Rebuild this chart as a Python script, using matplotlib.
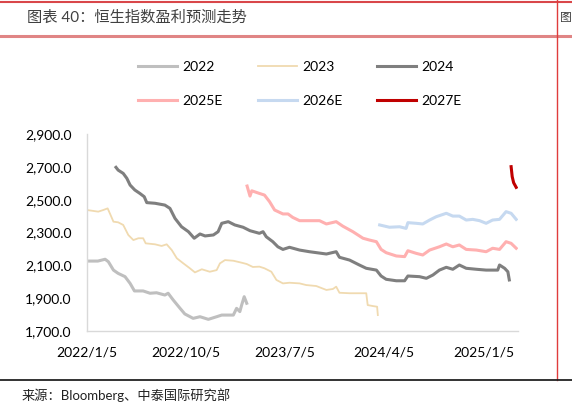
import matplotlib
matplotlib.use("Agg")
import matplotlib.pyplot as plt
from matplotlib.lines import Line2D
from matplotlib.ticker import FuncFormatter
import pandas as pd

plt.rcParams['font.family'] = ['Lato', 'Noto Sans CJK SC', 'DejaVu Sans']

# EPS forecast series (date, value)
d2022 = ['2022-01-05', '2022-02-04', '2022-02-24', '2022-03-05', '2022-03-19', '2022-04-01',
         '2022-04-20', '2022-05-04', '2022-05-16', '2022-06-09', '2022-06-28', '2022-07-16',
         '2022-08-08', '2022-08-17', '2022-08-31', '2022-09-19', '2022-10-02', '2022-10-25',
         '2022-11-13', '2022-12-06', '2022-12-29', '2023-01-12', '2023-02-13', '2023-02-22',
         '2023-03-03', '2023-03-08', '2023-03-15', '2023-03-22']
v2022 = [2126, 2126, 2137, 2122, 2071, 2051, 2031, 1990, 1944, 1944, 1930, 1933, 1919, 1930,
         1889, 1838, 1804, 1777, 1787, 1771, 1787, 1797, 1797, 1838, 1818, 1858, 1909, 1869]

d2023 = ['2022-01-05', '2022-02-05', '2022-02-19', '2022-03-03', '2022-03-09', '2022-03-19',
         '2022-04-01', '2022-04-15', '2022-04-29', '2022-05-13', '2022-05-27', '2022-06-09',
         '2022-06-16', '2022-07-12', '2022-07-30', '2022-08-13', '2022-08-27', '2022-09-10',
         '2022-09-28', '2022-10-16', '2022-10-30', '2022-11-18', '2022-12-10', '2022-12-29',
         '2023-01-07', '2023-01-21', '2023-02-13', '2023-03-08', '2023-03-22', '2023-04-08',
         '2023-04-26', '2023-05-10', '2023-05-29', '2023-06-12', '2023-06-30', '2023-07-18',
         '2023-08-15', '2023-09-02', '2023-09-30', '2023-10-28', '2023-11-15', '2023-11-24',
         '2023-12-03', '2023-12-31', '2024-01-27', '2024-02-15', '2024-02-19', '2024-03-04',
         '2024-03-16', '2024-03-18']
v2023 = [2437, 2427, 2437, 2447, 2417, 2366, 2362, 2346, 2285, 2254, 2265, 2265, 2234, 2228,
         2218, 2228, 2193, 2143, 2112, 2082, 2057, 2076, 2061, 2071, 2112, 2132, 2128, 2116,
         2108, 2090, 2092, 2082, 2061, 2011, 1990, 1994, 1990, 1980, 1974, 1950, 1956, 1970,
         1933, 1930, 1930, 1930, 1858, 1852, 1848, 1797]

d2024 = ['2022-03-26', '2022-04-01', '2022-04-15', '2022-04-25', '2022-05-04', '2022-05-17',
         '2022-05-31', '2022-06-12', '2022-06-19', '2022-07-12', '2022-08-08', '2022-08-22',
         '2022-09-05', '2022-09-23', '2022-10-12', '2022-10-28', '2022-11-13', '2022-11-27',
         '2022-12-20', '2023-01-02', '2023-01-12', '2023-01-30', '2023-02-17', '2023-03-12',
         '2023-03-31', '2023-04-26', '2023-05-06', '2023-05-15', '2023-06-02', '2023-06-16',
         '2023-06-30', '2023-07-18', '2023-08-15', '2023-09-11', '2023-10-28', '2023-11-24',
         '2023-12-03', '2023-12-31', '2024-01-27', '2024-02-15', '2024-03-14', '2024-03-27',
         '2024-04-10', '2024-05-08', '2024-05-31', '2024-06-09', '2024-07-11', '2024-07-30',
         '2024-08-17', '2024-09-04', '2024-09-23', '2024-10-11', '2024-10-29', '2024-11-17',
         '2024-12-15', '2025-01-11', '2025-02-12', '2025-02-17', '2025-03-03', '2025-03-12',
         '2025-03-16']
v2024 = [2697, 2680, 2660, 2630, 2589, 2559, 2538, 2518, 2482, 2478, 2467, 2447, 2386, 2335,
         2305, 2265, 2291, 2279, 2285, 2305, 2356, 2366, 2346, 2332, 2311, 2295, 2305, 2274,
         2244, 2213, 2197, 2210, 2193, 2183, 2169, 2183, 2149, 2132, 2102, 2082, 2071, 2035,
         2015, 2006, 2006, 2035, 2031, 2021, 2041, 2071, 2088, 2076, 2102, 2082, 2076, 2071,
         2071, 2102, 2082, 2061, 2011]

d2025 = ['2023-03-23', '2023-03-31', '2023-04-05', '2023-04-26', '2023-05-10', '2023-05-24',
         '2023-06-07', '2023-06-30', '2023-07-14', '2023-07-27', '2023-08-15', '2023-09-11',
         '2023-10-09', '2023-10-28', '2023-11-24', '2023-12-12', '2024-01-09', '2024-02-06',
         '2024-02-24', '2024-03-14', '2024-03-27', '2024-04-10', '2024-05-08', '2024-05-31',
         '2024-06-09', '2024-07-02', '2024-07-20', '2024-08-08', '2024-09-04', '2024-09-23',
         '2024-10-11', '2024-10-29', '2024-11-17', '2024-12-15', '2025-01-11', '2025-01-29',
         '2025-02-17', '2025-03-07', '2025-03-21', '2025-04-04']
v2025 = [2583, 2522, 2554, 2538, 2528, 2488, 2437, 2413, 2413, 2392, 2372, 2372, 2372, 2352,
         2366, 2339, 2305, 2265, 2254, 2244, 2197, 2177, 2157, 2153, 2189, 2173, 2163, 2193,
         2213, 2230, 2213, 2224, 2197, 2193, 2183, 2204, 2197, 2244, 2234, 2204]

d2026 = ['2024-03-23', '2024-04-19', '2024-05-17', '2024-06-04', '2024-06-09', '2024-07-02',
         '2024-07-20', '2024-08-08', '2024-08-26', '2024-09-23', '2024-10-11', '2024-10-29',
         '2024-11-17', '2024-12-05', '2024-12-24', '2025-01-11', '2025-01-29', '2025-02-17',
         '2025-03-07', '2025-03-21', '2025-04-04']
v2026 = [2346, 2332, 2335, 2325, 2360, 2356, 2352, 2376, 2396, 2417, 2400, 2400, 2376, 2380,
         2372, 2356, 2376, 2380, 2427, 2417, 2380]

d2027 = ['2025-03-21', '2025-03-24', '2025-03-28', '2025-04-04']
v2027 = [2701, 2640, 2603, 2575]

series = [
    ('2022', d2022, v2022, '#BFBFBF', 2.2),
    ('2023', d2023, v2023, '#F0DAB0', 1.3),
    ('2024', d2024, v2024, '#7F7F7F', 2.2),
    ('2025E', d2025, v2025, '#FFB0B0', 2.2),
    ('2026E', d2026, v2026, '#C6D9F0', 2.2),
    ('2027E', d2027, v2027, '#C00000', 2.2),
]

tick_dates = ['2022-01-05', '2022-10-05', '2023-07-05', '2024-04-05', '2025-01-05']
tick_labels = ['2022/1/5', '2022/10/5', '2023/7/5', '2024/4/5', '2025/1/5']

fig = plt.figure(figsize=(5.72, 4.13), dpi=100)
W, H = 572, 413

ax = fig.add_axes([87 / W, 1 - 331 / H, (518 - 87) / W, (331 - 134) / H])
lines = []
for name, d, v, c, lw in series:
    ln, = ax.plot(pd.to_datetime(d), v, color=c, lw=lw, label=name, solid_joinstyle='round')
    lines.append(ln)

ax.set_ylim(1700, 2900)
ax.set_yticks(range(1700, 2901, 200))
ax.yaxis.set_major_formatter(FuncFormatter(lambda x, p: '{:,.1f}'.format(x)))
ax.set_xlim(pd.Timestamp('2022-01-05'), pd.Timestamp('2025-04-09'))
ax.set_xticks(pd.to_datetime(tick_dates))
ax.set_xticklabels(tick_labels)
ax.tick_params(axis='both', length=0, labelsize=10, colors='#000000')
ax.tick_params(axis='y', pad=11)
ax.tick_params(axis='x', pad=11)
for s in ['top', 'right']:
    ax.spines[s].set_visible(False)
for s in ['left', 'bottom']:
    ax.spines[s].set_color('#D9D9D9')
    ax.spines[s].set_linewidth(1.0)

# legend filled column by column, so reorder to get rows 2022/2023/2024 and 2025E/2026E/2027E
order = [0, 3, 1, 4, 2, 5]
fig.legend([lines[i] for i in order], [lines[i].get_label() for i in order],
           loc='center', bbox_to_anchor=(300 / W, 1 - 84 / H), ncol=3, frameon=False,
           fontsize=10, handlelength=2.8, handletextpad=0.4, columnspacing=2.5,
           labelspacing=1.6)

# page decorations: title bar, frame lines and source note
fig.add_artist(Line2D([0, 1], [1 - 1.5 / H, 1 - 1.5 / H], color='#D9474A', lw=1.5))
fig.add_artist(Line2D([0, 1], [1 - 36 / H, 1 - 36 / H], color='#E08585', lw=2.2))
fig.add_artist(Line2D([557 / W, 557 / W], [1 - 380 / H, 1], color='#E03C3C', lw=1.0))
fig.add_artist(Line2D([0, 1], [1 - 380 / H, 1 - 380 / H], color='#222222', lw=1.3))
fig.text(27 / W, 1 - 18 / H, '图表 40：恒生指数盈利预测走势', fontsize=11, color='#404040',
         va='center', ha='left')
fig.text(560 / W, 1 - 18 / H, '图', fontsize=8.5, color='#404040', va='center', ha='left')
fig.text(22 / W, 1 - 395 / H, '来源：Bloomberg、中泰国际研究部', fontsize=9.5, color='#222222',
         va='center', ha='left')

fig.savefig('out.png', dpi=100)
